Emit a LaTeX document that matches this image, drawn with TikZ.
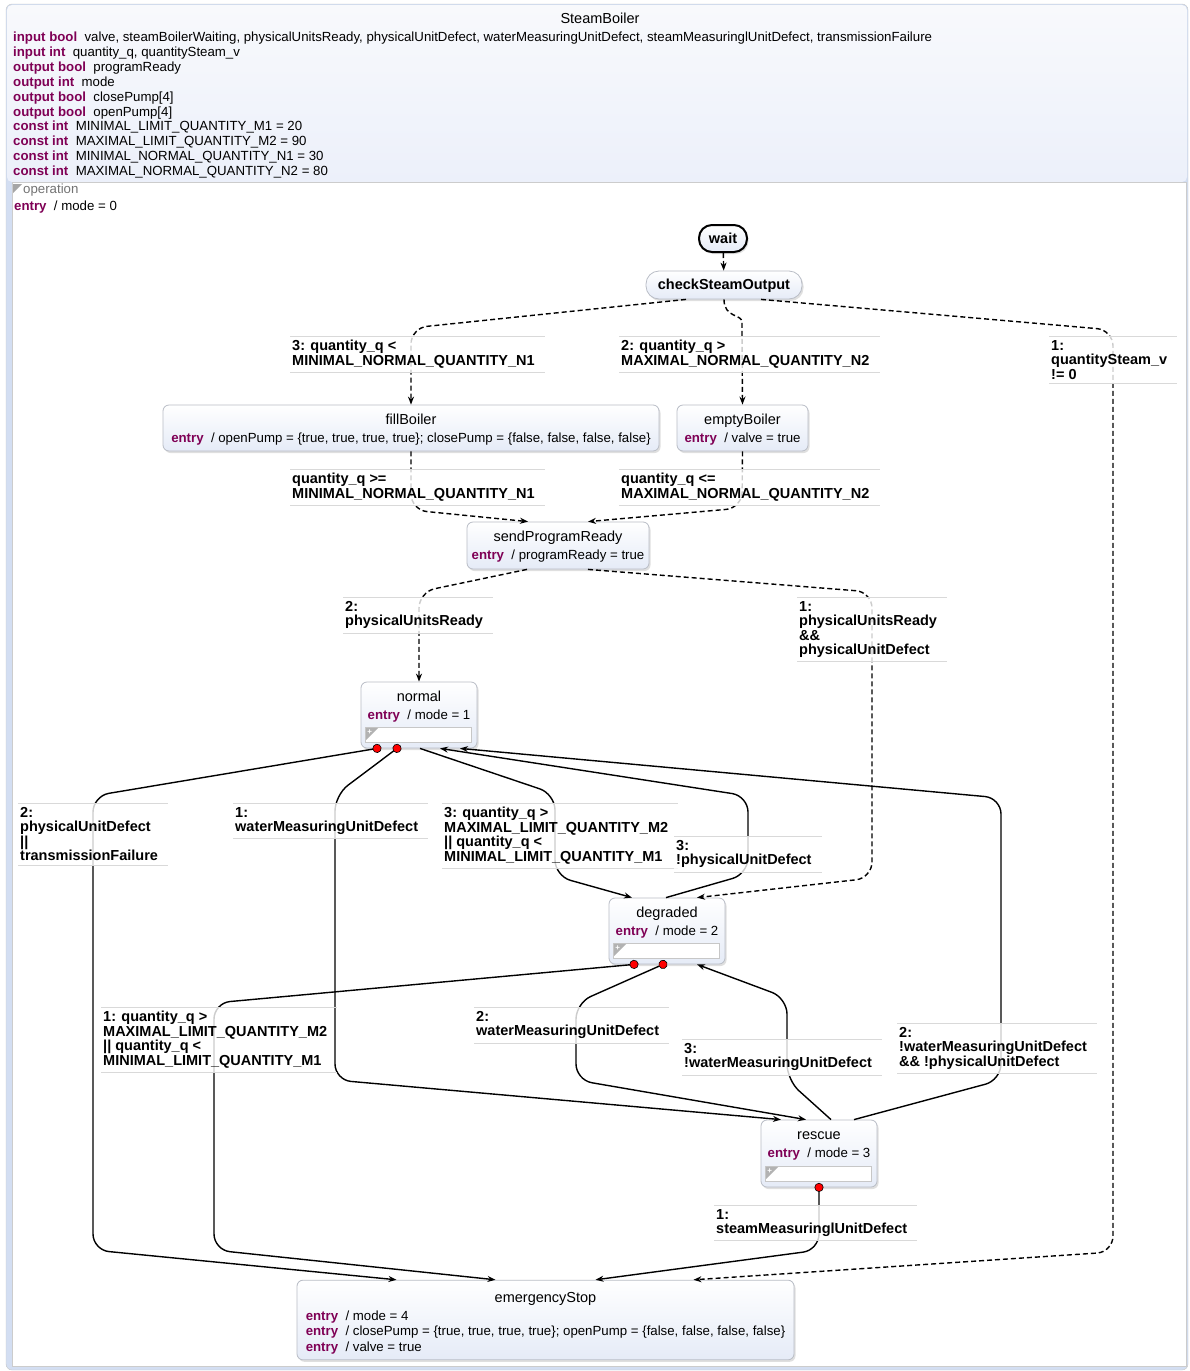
\documentclass[tikz,border=0pt]{standalone}
\usepackage{fontspec}
\setmainfont{Liberation Sans}
\usetikzlibrary{arrows.meta,calc,shadows,positioning}

\definecolor{kwcol}{RGB}{127,0,85}
\definecolor{bandblue}{HTML}{D3DEF2}
\definecolor{hdtop}{HTML}{F8F9FC}
\definecolor{hdbot}{HTML}{ECF0FA}
\definecolor{stateline}{HTML}{B9BDC6}
\definecolor{statebot}{HTML}{E5EBF7}

\newcommand{\kw}[1]{\textcolor{kwcol}{\textbf{#1}}}
% #1: strut height above the title, #2: state name
\newcommand{\stitle}[2]{\multicolumn{1}{@{}c@{}}{\rule{0pt}{#1}\fontsize{14.5pt}{15.5pt}\selectfont #2}}

\begin{document}
\begin{tikzpicture}[
    x=1pt, y=-1pt,
    >={Stealth[length=8pt,width=6pt]},
    % SCChart styles
    state/.style={draw=stateline, line width=0.8pt, rounded corners=6pt, top color=white, bottom color=statebot,
      drop shadow={shadow xshift=1.5pt, shadow yshift=-2pt, opacity=.25}, inner sep=4pt,
      font=\fontsize{13.25pt}{15.5pt}\selectfont},
    initial/.style={state, draw=black, line width=2pt, rounded corners=13pt, font=\fontsize{14.5pt}{15.5pt}\selectfont\bfseries},
    flow/.style={->, draw, line width=1.4pt, rounded corners=16pt},
    immediate/.style={flow, dash pattern=on 5pt off 3pt},
    strong/.style={flow, {Circle[length=9pt, fill=red, line width=0.6pt]}->, shorten <=-4.5pt},
    guard/.style={anchor=north west, align=left, inner xsep=2pt, inner ysep=4pt, fill=white, fill opacity=.8, text opacity=1,
      font=\fontsize{14.5pt}{14.5pt}\selectfont\bfseries,
      append after command={(\tikzlastnode.north west) edge[guardline] ([xshift=8pt]\tikzlastnode.north east)
        (\tikzlastnode.south west) edge[guardline] ([xshift=8pt]\tikzlastnode.south east)}},
    guardline/.style={draw=black!15, line width=1pt}
  ]

  \useasboundingbox (0,0) rectangle (1189,1371);

  % Outer frame, declarations and region
  \draw[draw=black!22, fill=bandblue, rounded corners=6pt] (6,4) rectangle (1188,1370);
  \shade[top color=hdtop, bottom color=hdbot, rounded corners=5pt] (7,5) rectangle (1187,182);
  \draw[draw=black!20, fill=white] (12,182) rectangle (1186,1366);
  \node[font=\fontsize{14.5pt}{15pt}\selectfont] (title) at (600,18) {SteamBoiler};
  \node[anchor=north west, align=left, inner sep=0pt, font=\fontsize{13.25pt}{14.85pt}\selectfont] (decls) at (13,32) {%
    \kw{input bool}\ \ valve, steamBoilerWaiting, physicalUnitsReady, physicalUnitDefect, waterMeasuringUnitDefect, steamMeasuringlUnitDefect, transmissionFailure\\
    \kw{input int}\ \ quantity\_q, quantitySteam\_v\\
    \kw{output bool}\ \ programReady\\
    \kw{output int}\ \ mode\\
    \kw{output bool}\ \ closePump[4]\\
    \kw{output bool}\ \ openPump[4]\\
    \kw{const int}\ \ MINIMAL\_LIMIT\_QUANTITY\_M1 = 20\\
    \kw{const int}\ \ MAXIMAL\_LIMIT\_QUANTITY\_M2 = 90\\
    \kw{const int}\ \ MINIMAL\_NORMAL\_QUANTITY\_N1 = 30\\
    \kw{const int}\ \ MAXIMAL\_NORMAL\_QUANTITY\_N2 = 80};
  \fill[black!35] (13,184) -- (22,184) -- (13,193) -- cycle;
  \node[anchor=west, inner sep=0pt, text=black!55, font=\fontsize{13.25pt}{15pt}\selectfont] (region) at (23,190) {operation};
  \node[anchor=west, inner sep=0pt, font=\fontsize{13.25pt}{15pt}\selectfont] (regionentry) at (14,207) {\kw{entry}\ \ / mode = 0};

  % States
  \node[initial, minimum width=48pt, minimum height=27pt] (wait) at (723,238.5) {wait};
  \node[state, rounded corners=13pt, font=\fontsize{14.5pt}{15.5pt}\selectfont\bfseries, minimum width=156pt, minimum height=28pt] (check) at (724,285) {\rule{0pt}{12pt}checkSteamOutput};
  \node[state, minimum width=496pt, minimum height=46pt] (fillBoiler) at (411,428) {\begin{tabular}{@{}l@{}}\stitle{14.8pt}{fillBoiler}\\[2.5pt]
      \kw{entry}\ \ / openPump = \{true, true, true, true\}; closePump = \{false, false, false, false\}\end{tabular}};
  \node[state, minimum width=131pt, minimum height=46pt] (emptyBoiler) at (742.5,428) {\begin{tabular}{@{}l@{}}\stitle{14.8pt}{emptyBoiler}\\[2.5pt]
      \kw{entry}\ \ / valve = true\end{tabular}};
  \node[state, minimum width=182pt, minimum height=47pt] (sendProgramReady) at (558,545.5) {\begin{tabular}{@{}l@{}}\stitle{14.8pt}{sendProgramReady}\\[2.5pt]
      \kw{entry}\ \ / programReady = true\end{tabular}};
  \node[state, minimum width=116pt, minimum height=66pt] (normal) at (419,715) {\begin{tabular}{@{}l@{}}\stitle{0pt}{normal}\\[2.5pt]
      \kw{entry}\ \ / mode = 1\\[16pt]\end{tabular}};
  \node[state, minimum width=116pt, minimum height=66pt] (degraded) at (667,931) {\begin{tabular}{@{}l@{}}\stitle{0pt}{degraded}\\[2.5pt]
      \kw{entry}\ \ / mode = 2\\[16pt]\end{tabular}};
  \node[state, minimum width=116pt, minimum height=67pt] (rescue) at (819,1153.5) {\begin{tabular}{@{}l@{}}\stitle{0pt}{rescue}\\[2.5pt]
      \kw{entry}\ \ / mode = 3\\[16pt]\end{tabular}};
  \node[state, minimum width=497pt, minimum height=76pt] (emergencyStop) at (545.5,1320) {\begin{tabular}{@{}l@{}}\stitle{18pt}{emergencyStop}\\[2.5pt]
      \kw{entry}\ \ / mode = 4\\
      \kw{entry}\ \ / closePump = \{true, true, true, true\}; openPump = \{false, false, false, false\}\\
      \kw{entry}\ \ / valve = true\end{tabular}};

  % Empty inner regions
  \foreach \s in {normal,degraded,rescue}{
    \draw[draw=black!22, fill=white] ([xshift=5pt,yshift=6pt]\s.south west) rectangle ([xshift=-6pt,yshift=21pt]\s.south east);
    \fill[black!30] ([xshift=5.5pt,yshift=20.5pt]\s.south west) -- ++(12,0) -- ++(-12,12) -- cycle;
    \node[text=white, font=\fontsize{8pt}{8pt}\selectfont\bfseries, inner sep=0pt] (\s-plus) at ([xshift=9pt,yshift=16.5pt]\s.south west) {+};
  }

  % Transitions
  \draw[immediate] (wait) -- (check);
  \draw[immediate] ($(check.south)+(-38,0)$) -- (411,328) -- (fillBoiler.north);
  \draw[immediate] (check.south) .. controls (724,318) and (742,314) .. (742,338) -- (emptyBoiler.north);
  \draw[immediate] ($(check.south)+(37,0)$) -- (1113,330) -- (1113,1252) -- ($(emergencyStop.north)+(148,0)$);
  \draw[immediate] (fillBoiler.south) -- (411,510) -- ($(sendProgramReady.north)+(-30,0)$);
  \draw[immediate] (emptyBoiler.south) -- (742,508) -- ($(sendProgramReady.north)+(30,0)$);
  \draw[immediate] ($(sendProgramReady.south)+(-31,0)$) -- (419,592) -- (normal.north);
  \draw[immediate] ($(sendProgramReady.south)+(30,0)$) -- (872,592) -- (872,878) -- ($(degraded.north)+(30,0)$);

  \draw[strong] ($(normal.south)+(-42,0)$) -- (93,796) -- (93,1250) -- ($(emergencyStop.north)+(-149,0)$);
  \draw[strong] ($(normal.south)+(-22,0)$) -- (335,795) -- (335,1080) -- ($(rescue.north)+(-38,0)$);
  \draw[flow] ($(normal.south)+(1,0)$) -- (555,794) -- (555,876) -- ($(degraded.north)+(-35,0)$);
  \draw[flow] ($(degraded.north)+(-1,0)$) -- (748,874) -- (748,796) -- ($(normal.south)+(21,0)$);
  \draw[flow] ($(rescue.north)+(35,0)$) -- (1001,1080) -- (1001,798) -- ($(normal.south)+(41,0)$);

  \draw[strong] ($(degraded.south)+(-33,0)$) -- (214,1003) -- (214,1250) -- ($(emergencyStop.north)+(-50,0)$);
  \draw[strong] ($(degraded.south)+(-4,0)$) -- (576,1003) -- (576,1080) -- ($(rescue.north)+(-13,0)$);
  \draw[flow] ($(rescue.north)+(12,0)$) -- (787,1080) -- (787,998) -- ($(degraded.south)+(30,0)$);
  \draw[strong] (rescue.south) -- (819,1250) -- ($(emergencyStop.north)+(50,0)$);

  % Guards
  \node[guard] (g-fill) at (290,336) {3: quantity\_q <\\MINIMAL\_NORMAL\_QUANTITY\_N1};
  \node[guard] (g-empty) at (619,336) {2: quantity\_q >\\MAXIMAL\_NORMAL\_QUANTITY\_N2};
  \node[guard] (g-steam) at (1049,336) {1:\\quantitySteam\_v\\!= 0};
  \node[guard] (g-filled) at (290,469) {quantity\_q >=\\MINIMAL\_NORMAL\_QUANTITY\_N1};
  \node[guard] (g-emptied) at (619,469) {quantity\_q <=\\MAXIMAL\_NORMAL\_QUANTITY\_N2};
  \node[guard] (g-ready) at (343,597) {2:\\physicalUnitsReady};
  \node[guard] (g-readydefect) at (797,597) {1:\\physicalUnitsReady\\\&\&\\physicalUnitDefect};
  \node[guard] (g-n-stop) at (18,803) {2:\\physicalUnitDefect\\||\\transmissionFailure};
  \node[guard] (g-n-rescue) at (233,803) {1:\\waterMeasuringUnitDefect};
  \node[guard] (g-n-degr) at (442,803) {3: quantity\_q >\\MAXIMAL\_LIMIT\_QUANTITY\_M2\\|| quantity\_q <\\MINIMAL\_LIMIT\_QUANTITY\_M1};
  \node[guard] (g-d-normal) at (674,836) {3:\\!physicalUnitDefect};
  \node[guard] (g-d-stop) at (101,1007) {1: quantity\_q >\\MAXIMAL\_LIMIT\_QUANTITY\_M2\\|| quantity\_q <\\MINIMAL\_LIMIT\_QUANTITY\_M1};
  \node[guard] (g-d-rescue) at (474,1007) {2:\\waterMeasuringUnitDefect};
  \node[guard] (g-r-degr) at (682,1039) {3:\\!waterMeasuringUnitDefect};
  \node[guard] (g-r-normal) at (897,1023) {2:\\!waterMeasuringUnitDefect\\\&\& !physicalUnitDefect};
  \node[guard] (g-r-stop) at (714,1205) {1:\\steamMeasuringlUnitDefect};
\end{tikzpicture}
\end{document}
